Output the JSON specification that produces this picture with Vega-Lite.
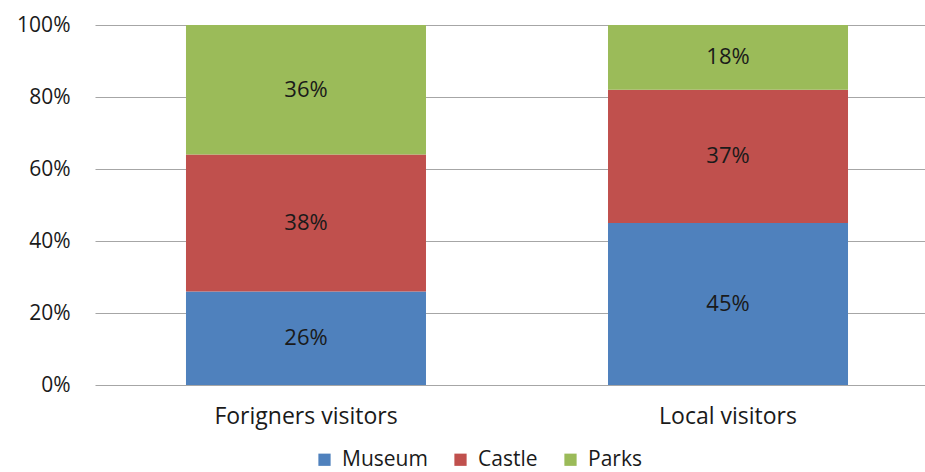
{
  "$schema": "https://vega.github.io/schema/vega-lite/v6.json",
  "width": 830,
  "height": 360,
  "autosize": {"type": "none"},
  "padding": {"left": 95, "top": 25, "right": 0, "bottom": 87},
  "background": "white",
  "config": {
    "view": {"stroke": null},
    "font": "Open Sans"
  },
  "data": {
    "values": [
      {"group": "Forigners visitors", "type": "Museum", "order": 1, "share": 0.26},
      {"group": "Forigners visitors", "type": "Castle", "order": 2, "share": 0.38},
      {"group": "Forigners visitors", "type": "Parks", "order": 3, "share": 0.36},
      {"group": "Local visitors", "type": "Museum", "order": 1, "share": 0.45},
      {"group": "Local visitors", "type": "Castle", "order": 2, "share": 0.37},
      {"group": "Local visitors", "type": "Parks", "order": 3, "share": 0.18}
    ]
  },
  "transform": [
    {"stack": "share", "groupby": ["group"], "sort": [{"field": "order", "order": "ascending"}], "as": ["y0", "y1"]},
    {"calculate": "(datum.y0 + datum.y1) / 2", "as": "ymid"}
  ],
  "encoding": {
    "x": {
      "field": "group", "type": "nominal", "sort": null,
      "scale": {"range": [0, 844], "paddingInner": 0.4313, "paddingOuter": 0.2156},
      "axis": {"title": null, "labelAngle": 0, "domain": false, "ticks": false, "labelFontSize": 23, "labelLimit": 0, "labelColor": "#1a1a1a", "labelPadding": 20}
    }
  },
  "layer": [
    {
      "mark": {"type": "bar"},
      "encoding": {
        "y": {
          "field": "y1", "type": "quantitative",
          "scale": {"domain": [0, 1]},
          "axis": {"title": null, "format": ".0%", "values": [0, 0.2, 0.4, 0.6, 0.8, 1], "labelOverlap": false, "labelFlush": false, "labelBound": false, "domain": false, "ticks": false, "labelPadding": 25, "labelFontSize": 21, "labelColor": "#1a1a1a", "gridColor": "#a6a6a6", "gridWidth": 1.2}
        },
        "y2": {"field": "y0"},
        "color": {
          "field": "type", "type": "nominal",
          "sort": ["Museum", "Castle", "Parks"],
          "scale": {"domain": ["Museum", "Castle", "Parks"], "range": ["#4f81bd", "#c0504d", "#9bbb59"]},
          "legend": {"title": null, "orient": "none", "legendX": 219, "legendY": 424, "direction": "horizontal", "symbolType": "square", "symbolSize": 150, "symbolStrokeWidth": 0, "labelFontSize": 21, "labelLimit": 0, "labelColor": "#1a1a1a", "columnPadding": 22, "labelOffset": 7}
        }
      }
    },
    {
      "mark": {"type": "text", "fontSize": 22, "color": "#1a1a1a"},
      "encoding": {
        "y": {"field": "ymid", "type": "quantitative"},
        "text": {"field": "share", "type": "quantitative", "format": ".0%"}
      }
    }
  ]
}
